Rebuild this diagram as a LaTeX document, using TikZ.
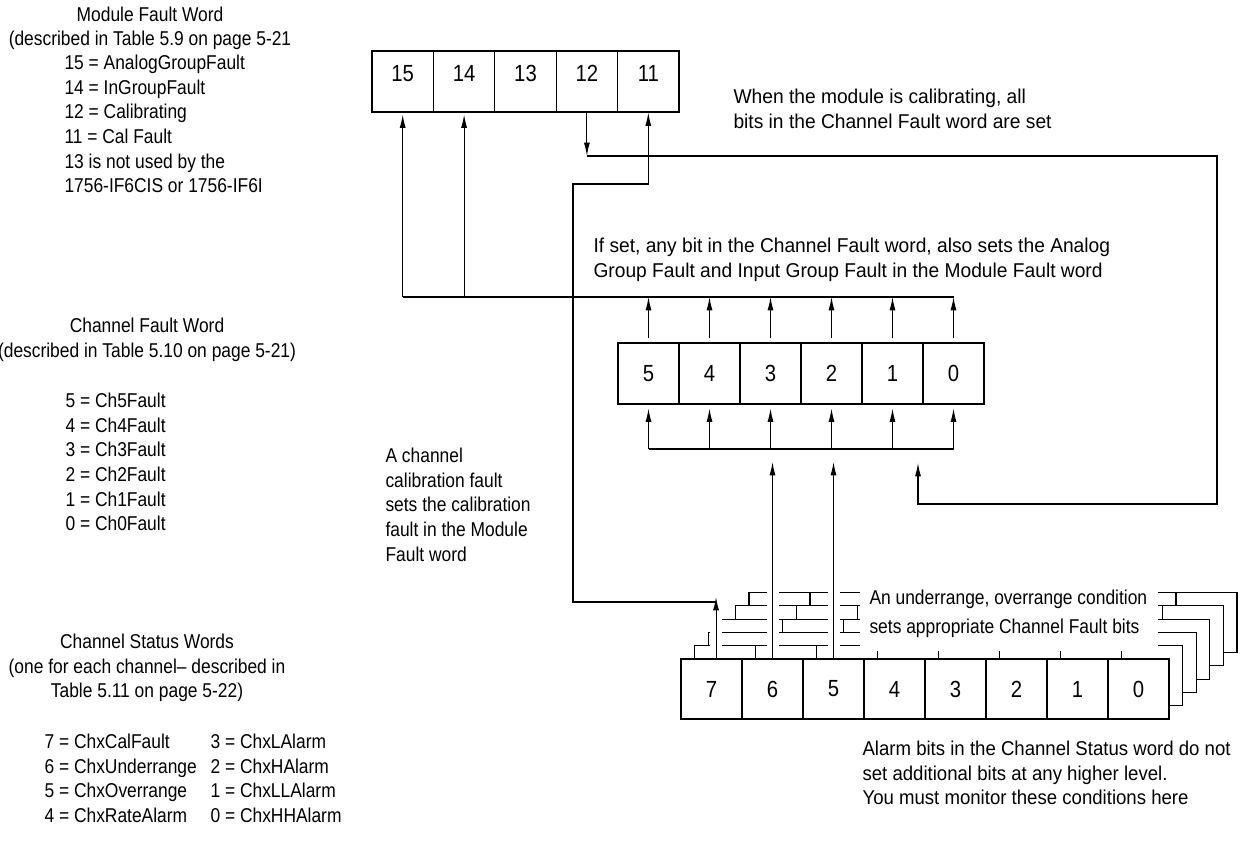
\documentclass[tikz,border=0pt]{standalone}
\usepackage{fontspec}
\setmainfont{Liberation Sans}[FakeStretch=0.87]
\newfontfamily\widefont{Liberation Sans}[FakeStretch=0.96]
\newfontfamily\midfont{Liberation Sans}[FakeStretch=0.93]
\usetikzlibrary{arrows.meta,positioning}

\tikzset{
  cell/.style={draw, fill=white, inner sep=0pt, minimum width=45.75pt, minimum height=45.75pt,
    font=\fontsize{17.5}{20}\selectfont},
  cellnum/.style={anchor=north, inner sep=0pt, yshift=-10.5pt, font=\fontsize{17.5}{20}\selectfont},
  note/.style={align=left, anchor=north west, inner sep=0pt, font=\fontsize{15}{18.5}\selectfont},
  head/.style={align=center, inner sep=0pt, font=\fontsize{15}{18.5}\selectfont},
  arr/.style={-{Latex[length=10pt,width=4.5pt]}},
  halo/.style={white, line width=9pt},
}

\begin{document}
\begin{tikzpicture}[x=0.75pt, y=-0.75pt, line width=0.8pt]
\useasboundingbox (0,0) rectangle (1240,841);

% texts on the left
\node[head] (mfh) at (150,28.5) {Module Fault Word\\(described in Table 5.9 on page 5-21};
\node[note] (mfl) at (64,54.5) {15 = AnalogGroupFault\\14 = InGroupFault\\12 = Calibrating\\11 = Cal Fault\\13 is not used by the\\1756-IF6CIS or 1756-IF6I};
\node[head] (cfh) at (147,340) {Channel Fault Word\\(described in Table 5.10 on page 5-21)};
\node[note] (cfl) at (65,392.5) {5 = Ch5Fault\\4 = Ch4Fault\\3 = Ch3Fault\\2 = Ch2Fault\\1 = Ch1Fault\\0 = Ch0Fault};
\node[head] (csh) at (147,668) {Channel Status Words\\(one for each channel\textendash{} described in\\Table 5.11 on page 5-22)};
\node[note] (csa) at (44,733.5) {7 = ChxCalFault\\6 = ChxUnderrange\\5 = ChxOverrange\\4 = ChxRateAlarm};
\node[note] (csb) at (210,733.5) {3 = ChxLAlarm\\2 = ChxHAlarm\\1 = ChxLLAlarm\\0 = ChxHHAlarm};

% notes
\node[note] (calnote) at (385,447.5) {A channel\\calibration fault\\sets the calibration\\fault in the Module\\Fault word};
\node[note, font=\widefont\fontsize{15}{18.5}\selectfont] (cbnote) at (733,88.5) {When the module is calibrating, all\\bits in the Channel Fault word are set};
\node[note, font=\widefont\fontsize{15}{18.5}\selectfont] (agnote) at (593,237.5) {If set, any bit in the Channel Fault word, also sets the Analog\\Group Fault and Input Group Fault in the Module Fault word};
\node[note, font=\midfont\fontsize{15}{18.5}\selectfont] (alnote) at (862,740.5) {Alarm bits in the Channel Status word do not\\set additional bits at any higher level.\\You must monitor these conditions here};

% module fault word
\foreach \b [count=\i from 0] in {15,14,13,12,11}
  \node[cell, minimum width=46.05pt, label={[cellnum]north:\b}] (m\b) at (402.7+61.4*\i,81.5) {};

% channel fault word
\foreach \b [count=\i from 0] in {5,4,3,2,1,0}
  \node[cell] (c\b) at (648.5+61*\i,373.5) {\b};

% channel status words, the ones behind first
\foreach \k in {5,4,3,2,1} {
  \begin{scope}[shift={(13.6*\k,-13.3*\k)}]
    \draw[fill=white] (681,659) rectangle (1169,719);
    \foreach \i in {1,...,7}
      \draw (681+61*\i,659) -- (681+61*\i,719);
  \end{scope}
}
\foreach \b [count=\i from 0] in {7,6,...,0}
  \node[cell, minimum height=45pt] (s\b) at (711.5+61*\i,689) {\b};

\coordinate (s7a) at ([xshift=3.4pt]s7.north);
\draw[halo] ([yshift=1.5pt]s7a) -- ++(0,-72);
\draw[halo] ([yshift=1.5pt]s6.north) -- ++(0,-72);
\draw[halo] ([yshift=1.5pt]s5.north) -- ++(0,-72);

\fill[white] (860,586) rectangle (1158,651);
\node[note, font=\fontsize{15}{21.75}\selectfont] (oornote) at (869,589.5) {An underrange, overrange condition\\sets appropriate Channel Fault bits};

% buses
\coordinate (tb) at (0,297);
\coordinate (bb) at (0,449);
\coordinate (bt) at (0,462);
\draw (m15.south |- tb) -- (c0.north |- tb);
\draw[arr] (m15.south |- tb) -- ([yshift=-1.5pt]m15.south);
\draw[arr] (m14.south |- tb) -- ([yshift=-1.5pt]m14.south);
\draw (c5.south |- bb) -- (c0.south |- bb);
\foreach \b in {5,4,3,2,1,0} {
  \draw[arr] ([yshift=3pt]c\b.north) -- (c\b.north |- tb);
  \draw[arr] (c\b.south |- bb) -- ([yshift=-3pt]c\b.south);
}
\draw[arr] (s6.north) -- (s6.north |- bt);
\draw[arr] (s5.north) -- (s5.north |- bt);

% calibrating
\coordinate (calr) at (1217,156);
\coordinate (calb) at (1217,504);
\coordinate (calin) at (918,463);
\draw[arr] (m12.south) -- (m12.south |- calr);
\draw[arr] (m12.south |- calr) -- (calr) -- (calb) -| (calin);

% cal fault
\coordinate (cft) at (0,597);
\coordinate (cfl) at (573,602);
\coordinate (cfu) at (573,184);
\draw[arr] (s7a) -- (s7a |- cft);
\draw[arr] (s7a |- cfl) -- (cfl) -- (cfu) -| (m11.south);
\end{tikzpicture}
\end{document}
